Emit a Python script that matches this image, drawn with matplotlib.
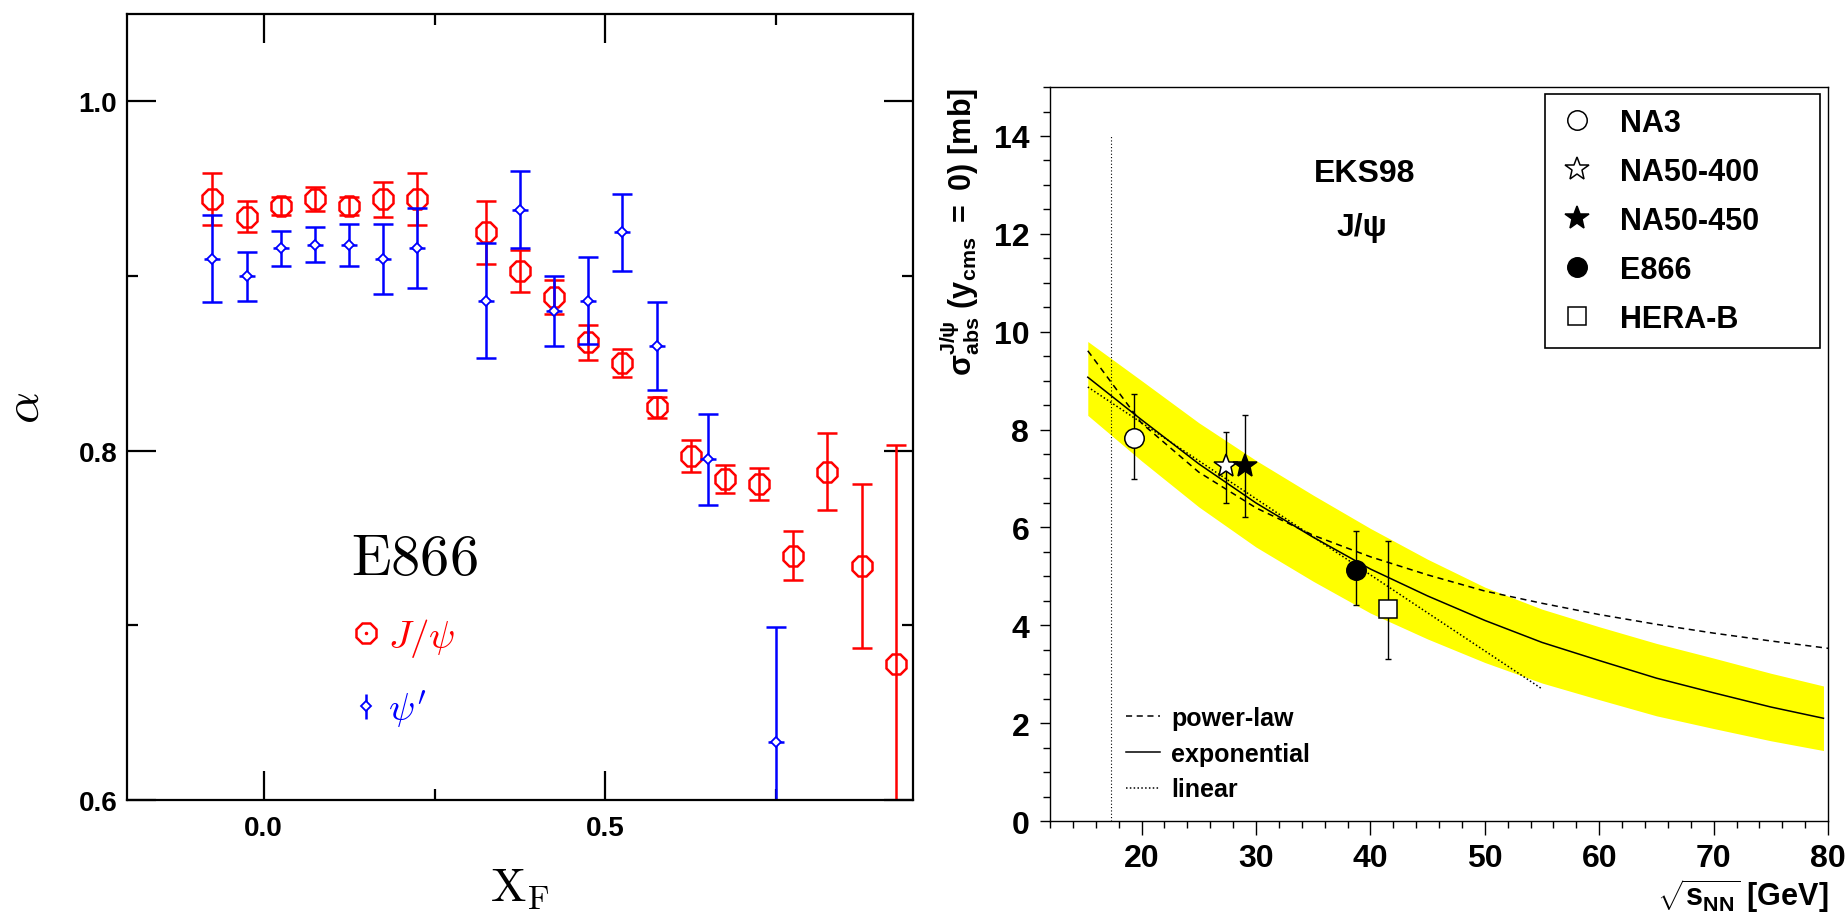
import matplotlib
matplotlib.use('Agg')
import matplotlib.pyplot as plt
from matplotlib.lines import Line2D
from matplotlib.legend_handler import HandlerTuple
from matplotlib.font_manager import FontProperties
from matplotlib.ticker import MultipleLocator, FixedLocator, FormatStrFormatter

plt.rcParams['font.family'] = ['Liberation Sans', 'DejaVu Sans']
plt.rcParams['mathtext.fontset'] = 'custom'
plt.rcParams['mathtext.rm'] = 'Liberation Sans:bold'
plt.rcParams['mathtext.it'] = 'Liberation Sans:italic:bold'
plt.rcParams['mathtext.bf'] = 'Liberation Sans:bold'

# --- left panel: E866 alpha vs xF ---
xf_jpsi = [-0.075, -0.025, 0.025, 0.075, 0.125, 0.175, 0.225, 0.325, 0.375, 0.425,
           0.475, 0.525, 0.575, 0.625, 0.675, 0.725, 0.775, 0.825, 0.875, 0.925]
alpha_jpsi = [0.944, 0.934, 0.940, 0.944, 0.940, 0.944, 0.944, 0.925, 0.903, 0.888,
              0.862, 0.850, 0.825, 0.797, 0.784, 0.781, 0.740, 0.788, 0.734, 0.678]
alpha_jpsi_err = [0.015, 0.009, 0.005, 0.007, 0.005, 0.010, 0.015, 0.018, 0.012, 0.010,
                  0.010, 0.008, 0.006, 0.009, 0.008, 0.009, 0.014, 0.022, 0.047, 0.125]

xf_psip = [-0.075, -0.025, 0.025, 0.075, 0.125, 0.175, 0.225, 0.325, 0.375, 0.425,
           0.475, 0.525, 0.575, 0.65, 0.75]
alpha_psip = [0.910, 0.900, 0.916, 0.918, 0.918, 0.910, 0.916, 0.886, 0.938, 0.880,
              0.886, 0.925, 0.860, 0.795, 0.633]
alpha_psip_err = [0.025, 0.014, 0.010, 0.010, 0.012, 0.020, 0.023, 0.033, 0.022, 0.020,
                  0.025, 0.022, 0.025, 0.026, 0.066]

# --- right panel: sigma_abs vs sqrt(s_NN) ---
exp_names = ['NA3', 'NA50-400', 'NA50-450', 'E866', 'HERA-B']
exp_sqrts = [19.3, 27.4, 29.0, 38.7, 41.5]
exp_sigma = [7.83, 7.25, 7.25, 5.12, 4.34]
exp_err_lo = [0.85, 0.75, 1.03, 0.71, 1.02]
exp_err_hi = [0.89, 0.71, 1.04, 0.80, 1.38]

curve_sqrts = [15.3, 20, 25, 30, 35, 40, 45, 50, 55, 60, 65, 70, 75, 79.6]
sigma_exp = [9.07, 8.20, 7.30, 6.50, 5.80, 5.15, 4.60, 4.10, 3.65, 3.28, 2.92, 2.62, 2.33, 2.10]
band_hi = [9.80, 9.00, 8.14, 7.37, 6.66, 5.98, 5.35, 4.78, 4.33, 3.97, 3.63, 3.33, 3.02, 2.76]
band_lo = [8.29, 7.36, 6.42, 5.60, 4.90, 4.25, 3.72, 3.24, 2.82, 2.48, 2.15, 1.89, 1.64, 1.44]

pow_sqrts = [15.3, 20, 25, 30, 35, 40, 45, 50, 55, 60, 65, 70, 75, 80]
sigma_pow = [9.61, 8.13, 7.13, 6.40, 5.84, 5.40, 5.03, 4.70, 4.45, 4.22, 4.02, 3.84, 3.68, 3.53]

lin_sqrts = [15.3, 55.0]
sigma_lin = [8.87, 2.70]

sps_sqrts = 17.3

fig = plt.figure(figsize=(18.48, 9.2), dpi=100)

# ================= left panel =================
ax1 = fig.add_axes([0.0687, 0.1293, 0.4253, 0.8543])
ax1.errorbar(xf_jpsi, alpha_jpsi, yerr=alpha_jpsi_err, fmt='none', ecolor='red',
             elinewidth=1.8, capsize=7.5, capthick=1.8)
ax1.plot(xf_jpsi, alpha_jpsi, ls='none', marker='8', ms=15, mfc='none', mec='red', mew=1.8)

ax1.errorbar(xf_psip, alpha_psip, yerr=alpha_psip_err, fmt='none', ecolor='blue',
             elinewidth=1.8, capsize=7.5, capthick=1.8)
ax1.plot(xf_psip, alpha_psip, ls='none', marker='_', ms=11, mec='blue', mew=1.8)
ax1.plot(xf_psip, alpha_psip, ls='none', marker='D', ms=5, mfc='white', mec='blue', mew=1.3)

ax1.set_xlim(-0.2, 0.95)
ax1.set_ylim(0.6, 1.05)
ax1.xaxis.set_major_locator(FixedLocator([0.0, 0.5]))
ax1.xaxis.set_minor_locator(FixedLocator([0.25, 0.75]))
ax1.yaxis.set_major_locator(FixedLocator([0.6, 0.8, 1.0]))
ax1.yaxis.set_minor_locator(FixedLocator([0.7, 0.9]))
ax1.xaxis.set_major_formatter(FormatStrFormatter('%.1f'))
ax1.yaxis.set_major_formatter(FormatStrFormatter('%.1f'))
ax1.tick_params(which='both', direction='in', top=True, right=True, width=1.6, labelsize=20)
ax1.tick_params(which='major', length=21)
ax1.tick_params(which='minor', length=8)
ax1.tick_params(axis='y', pad=7)
ax1.tick_params(axis='x', pad=11)
for lab in ax1.get_xticklabels() + ax1.get_yticklabels():
    lab.set_fontweight('bold')
for s in ax1.spines.values():
    s.set_linewidth(1.6)

ax1.set_ylabel(r'$\alpha$', fontsize=36, math_fontfamily='cm')
ax1.yaxis.set_label_coords(-0.1, 0.5)
ax1.set_xlabel(r'$\mathrm{X_F}$', fontsize=34, math_fontfamily='cm')
ax1.xaxis.set_label_coords(0.5, -0.085)

h_jpsi = (Line2D([], [], ls='none', marker='8', ms=15, mfc='none', mec='red', mew=1.8),
          Line2D([], [], ls='none', marker='.', ms=3, color='red'))
h_psip = (Line2D([], [], ls='none', marker='|', ms=18, mec='blue', mew=1.8),
          Line2D([], [], ls='none', marker='D', ms=5, mfc='white', mec='blue', mew=1.3))
leg1 = ax1.legend([h_jpsi, h_psip], [r'$J/\psi$', r"$\psi'$"],
                  handler_map={tuple: HandlerTuple(ndivide=1)},
                  loc='upper left', bbox_to_anchor=(0.24, 0.385), frameon=False,
                  prop=FontProperties(size=28, math_fontfamily='cm'),
                  title=r'$\mathrm{E866}$',
                  title_fontproperties=FontProperties(size=42, math_fontfamily='cm'),
                  alignment='left', handlelength=0.8, handletextpad=0.15,
                  labelspacing=0.75, labelcolor=['red', 'blue'])

# ================= right panel =================
ax2 = fig.add_axes([0.5682, 0.1065, 0.4210, 0.7978])
ax2.fill_between(curve_sqrts, band_lo, band_hi, color='#ffff00', lw=0, zorder=1)
l_pow, = ax2.plot(pow_sqrts, sigma_pow, color='black', lw=1.1, ls=(0, (4, 3)), zorder=2)
l_exp, = ax2.plot(curve_sqrts, sigma_exp, color='black', lw=1.1, ls='-', zorder=2)
l_lin, = ax2.plot(lin_sqrts, sigma_lin, color='black', lw=1.1, ls=(0, (1, 1.5)), zorder=2)
ax2.plot([sps_sqrts, sps_sqrts], [0, 14], color='black', lw=0.8, ls=(0, (1, 2)), zorder=2)

marker_styles = [dict(marker='o', mfc='white', ms=14),
                 dict(marker='*', mfc='white', ms=18),
                 dict(marker='*', mfc='black', ms=18),
                 dict(marker='o', mfc='black', ms=14),
                 dict(marker='s', mfc='white', ms=13)]
exp_handles = []
for i, name in enumerate(exp_names):
    ax2.errorbar([exp_sqrts[i]], [exp_sigma[i]], yerr=[[exp_err_lo[i]], [exp_err_hi[i]]],
                 fmt='none', ecolor='black', elinewidth=1, capsize=2, capthick=1, zorder=3)
    h, = ax2.plot([exp_sqrts[i]], [exp_sigma[i]], ls='none', mec='black', mew=1.1,
                  label=name, zorder=4, **marker_styles[i])
    exp_handles.append(h)

ax2.set_xlim(12, 80)
ax2.set_ylim(0, 15)
ax2.xaxis.set_major_locator(MultipleLocator(10))
ax2.xaxis.set_minor_locator(MultipleLocator(2))
ax2.yaxis.set_major_locator(MultipleLocator(2))
ax2.yaxis.set_minor_locator(MultipleLocator(0.5))
ax2.tick_params(which='both', direction='out', top=False, right=False, width=1,
                labelsize=23)
ax2.tick_params(axis='x', which='major', length=10, pad=6)
ax2.tick_params(axis='x', which='minor', length=5)
ax2.tick_params(axis='y', which='major', length=7, pad=8)
ax2.tick_params(axis='y', which='minor', length=5)
for lab in ax2.get_xticklabels() + ax2.get_yticklabels():
    lab.set_fontweight('bold')
for s in ax2.spines.values():
    s.set_linewidth(1)

ax2.set_ylabel(r'$\mathrm{\sigma_{abs}^{J/\psi}\ (y_{cms}\ =\ 0)\ [mb]}$', fontsize=22,
               loc='top')
ax2.yaxis.set_label_coords(-0.087, 1.0)
ax2.set_xlabel(r'$\sqrt{\mathrm{s_{NN}}}$ [GeV]', fontsize=22, fontweight='bold',
               loc='right')
ax2.xaxis.set_label_coords(1.0, -0.075)

ax2.text(39.5, 13.24, 'EKS98', fontsize=23, fontweight='bold', ha='center', va='center')
ax2.text(39.3, 12.14, 'J/\u03c8', fontsize=23, fontweight='bold', ha='center', va='center')

leg2 = ax2.legend(handles=exp_handles, loc='upper left',
                  bbox_to_anchor=(0.636, 0.653, 0.354, 0.337), mode='expand',
                  borderaxespad=0, fancybox=False, framealpha=1, edgecolor='black',
                  prop=dict(size=22, weight='bold'), handlelength=1.2,
                  handletextpad=0.8, borderpad=0.45, labelspacing=0.62)
leg2.get_frame().set_linewidth(1.2)
ax2.add_artist(leg2)

ax2.legend([l_pow, l_exp, l_lin], ['power-law', 'exponential', 'linear'],
           loc='lower left', bbox_to_anchor=(0.085, 0.013), frameon=False,
           prop=dict(size=18, weight='bold'), handlelength=1.36,
           handletextpad=0.45, labelspacing=0.47, borderaxespad=0)

fig.savefig('out.png', dpi=100, facecolor='white')
